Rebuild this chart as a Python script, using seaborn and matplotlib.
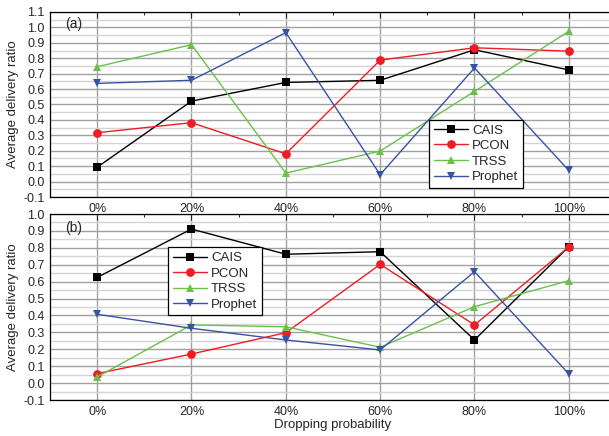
import matplotlib
matplotlib.use('Agg')
import matplotlib.pyplot as plt
from matplotlib.ticker import MultipleLocator, FixedLocator
import seaborn as sns
import pandas as pd

# ─── Data ────────────────────────────────────────────────────────────────────
DROP_PROB = [0, 20, 40, 60, 80, 100]
X_LABELS = ['0%', '20%', '40%', '60%', '80%', '100%']
SERIES = ['CAIS', 'PCON', 'TRSS', 'Prophet']

# panel (a)
A_CAIS    = [0.093, 0.522, 0.643, 0.657, 0.855, 0.724]
A_PCON    = [0.317, 0.382, 0.180, 0.788, 0.868, 0.846]
A_TRSS    = [0.745, 0.888, 0.055, 0.198, 0.585, 0.975]
A_PROPHET = [0.637, 0.657, 0.966, 0.045, 0.737, 0.072]

# panel (b)
B_CAIS    = [0.625, 0.911, 0.762, 0.777, 0.255, 0.807]
B_PCON    = [0.056, 0.172, 0.298, 0.702, 0.344, 0.805]
B_TRSS    = [0.036, 0.344, 0.333, 0.212, 0.452, 0.606]
B_PROPHET = [0.407, 0.324, 0.255, 0.196, 0.659, 0.054]

COLORS  = {'CAIS': '#000000', 'PCON': '#ee1c24', 'TRSS': '#6cc04a', 'Prophet': '#3953a4'}
MARKERS = {'CAIS': 's', 'PCON': 'o', 'TRSS': '^', 'Prophet': 'v'}


def to_long(cais, pcon, trss, prophet):
    rows = []
    for name, vals in zip(SERIES, [cais, pcon, trss, prophet]):
        for x, v in zip(DROP_PROB, vals):
            rows.append({'drop': x, 'ratio': v, 'method': name})
    return pd.DataFrame(rows)


def style_axes(ax, ymax):
    ax.set_xlim(-10, 110)
    ax.set_ylim(-0.1, ymax)
    ax.xaxis.set_major_locator(FixedLocator(DROP_PROB))
    ax.set_xticklabels(X_LABELS)
    ax.xaxis.set_minor_locator(FixedLocator([10, 30, 50, 70, 90]))
    ax.yaxis.set_major_locator(MultipleLocator(0.1))
    ax.yaxis.set_minor_locator(MultipleLocator(0.05))
    ax.yaxis.set_major_formatter(matplotlib.ticker.FormatStrFormatter('%.1f'))
    ax.tick_params(which='both', direction='in', top=True, right=True,
                   labelsize=9, pad=4)
    ax.tick_params(which='major', length=4, width=0.8)
    ax.tick_params(which='minor', length=2, width=0.8)
    ax.grid(False)
    ax.xaxis.grid(True, which='major', color='#a0a0a0', lw=1.0)
    ax.yaxis.grid(True, which='major', color='#a0a0a0', lw=1.0)
    ax.yaxis.grid(True, which='minor', color='#d4d4d4', lw=1.0)
    ax.set_axisbelow(True)
    for sp in ax.spines.values():
        sp.set_color('black')
        sp.set_linewidth(0.9)
    ax.set_ylabel('Average delivery ratio', fontsize=9.5, labelpad=3)


def draw(ax, df):
    sns.lineplot(data=df, x='drop', y='ratio', hue='method', style='method',
                 hue_order=SERIES, style_order=SERIES, palette=COLORS,
                 markers=MARKERS, dashes=False, markersize=6.3, lw=1.0,
                 markeredgewidth=0, ax=ax)


sns.set_theme(style='white')
plt.rcParams['font.family'] = ['Liberation Sans', 'DejaVu Sans']

fig = plt.figure(figsize=(6.09, 4.36), dpi=100)
ax_a = fig.add_axes([50 / 609, 1 - 197 / 436, 566 / 609, 185 / 436])
ax_b = fig.add_axes([50 / 609, 1 - 400 / 436, 566 / 609, 186 / 436])

draw(ax_a, to_long(A_CAIS, A_PCON, A_TRSS, A_PROPHET))
draw(ax_b, to_long(B_CAIS, B_PCON, B_TRSS, B_PROPHET))

style_axes(ax_a, 1.1)
style_axes(ax_b, 1.0)
ax_a.set_xlabel('')
ax_b.set_xlabel('Dropping probability', fontsize=9.5, labelpad=1)

ax_a.text(0.027, 0.975, '(a)', transform=ax_a.transAxes, fontsize=10,
          va='top', ha='left')
ax_b.text(0.027, 0.965, '(b)', transform=ax_b.transAxes, fontsize=10,
          va='top', ha='left')

for ax, loc in [(ax_a, (379 / 566, 0.05)), (ax_b, (118 / 566, 0.455))]:
    handles, labels = ax.get_legend_handles_labels()
    leg = ax.legend(handles, labels, loc='lower left', bbox_to_anchor=loc,
                    fontsize=9.5, frameon=True, fancybox=False,
                    handlelength=2.6, handletextpad=0.3, labelspacing=0.25,
                    borderpad=0.35, borderaxespad=0)
    leg.get_frame().set_edgecolor('black')
    leg.get_frame().set_linewidth(0.9)
    leg.get_frame().set_alpha(1)

fig.savefig('out.png', dpi=100)
